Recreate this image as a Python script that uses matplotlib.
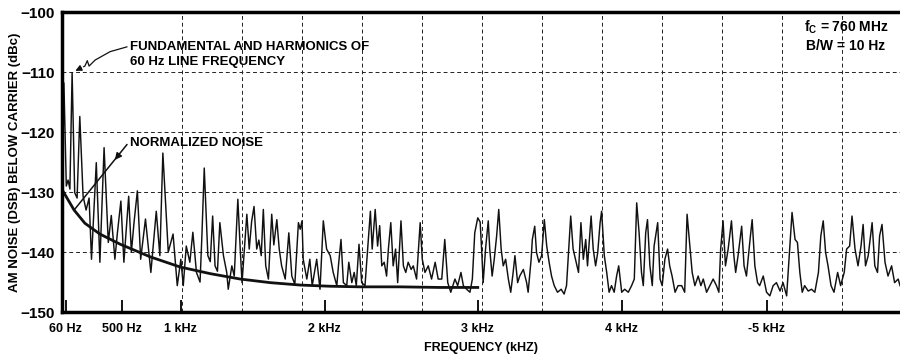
import matplotlib
matplotlib.use("Agg")
import matplotlib.pyplot as plt
from matplotlib.ticker import MultipleLocator

plt.rcParams['font.family'] = ['Liberation Sans', 'DejaVu Sans']

# x positions are in chart grid divisions (0 = left frame, one division per dashed line)
trace_div = [
    0.00, 0.01, 0.03, 0.07, 0.10, 0.13, 0.167, 0.21, 0.25, 0.295, 0.35, 0.40, 0.45, 0.49,
    0.57, 0.63, 0.70, 0.77, 0.82, 0.88, 0.92, 0.98, 1.03, 1.11, 1.155, 1.20, 1.255, 1.31,
    1.39, 1.48, 1.57, 1.63, 1.68, 1.77, 1.85, 1.92, 1.98, 2.02, 2.07, 2.13, 2.18, 2.24,
    2.30, 2.33, 2.37, 2.43, 2.47, 2.51, 2.55, 2.59, 2.63, 2.69, 2.745, 2.77, 2.83, 2.87,
    2.93, 2.97, 3.00, 3.08, 3.12, 3.16, 3.20, 3.245, 3.28, 3.32, 3.355, 3.395, 3.44, 3.495,
    3.53, 3.58, 3.62, 3.66, 3.72, 3.78, 3.83, 3.88, 3.94, 3.97, 4.00, 4.02, 4.08, 4.13,
    4.17, 4.245, 4.30, 4.355, 4.41, 4.47, 4.52, 4.58, 4.61, 4.65, 4.69, 4.745, 4.78, 4.83,
    4.87, 4.905, 4.95, 4.995, 5.05, 5.105, 5.14, 5.17, 5.22, 5.26, 5.295, 5.33, 5.37, 5.41,
    5.44, 5.48, 5.52, 5.56, 5.595, 5.65, 5.69, 5.73, 5.77, 5.82, 5.855, 5.91, 5.97, 6.005,
    6.05, 6.105, 6.16, 6.22, 6.27, 6.33, 6.38, 6.43, 6.48, 6.55, 6.595, 6.65, 6.69, 6.745,
    6.80, 6.84, 6.88, 6.93, 6.97, 7.00, 7.02, 7.06, 7.105, 7.13, 7.17, 7.205, 7.245, 7.28,
    7.32, 7.355, 7.395, 7.44, 7.48, 7.52, 7.55, 7.595, 7.63, 7.69, 7.745, 7.77, 7.82, 7.84,
    7.88, 7.91, 7.95, 7.995, 8.04, 8.08, 8.12, 8.16, 8.205, 8.26, 8.32, 8.37, 8.41, 8.45,
    8.48, 8.52, 8.56, 8.61, 8.65, 8.69, 8.73, 8.76, 8.82, 8.855, 8.895, 8.93, 8.97, 8.995,
    9.04, 9.08, 9.12, 9.16, 9.205, 9.245, 9.28, 9.33, 9.38, 9.44, 9.495, 9.54, 9.58, 9.62,
    9.66, 9.69, 9.73, 9.76, 9.80, 9.84, 9.87, 9.93, 9.97, 10.005, 10.05, 10.095, 10.13, 10.17,
    10.22, 10.27, 10.33, 10.38, 10.42, 10.47, 10.505, 10.55, 10.605, 10.65, 10.69, 10.745, 10.80, 10.855,
    10.91, 10.95, 10.98, 11.02, 11.06, 11.105, 11.16, 11.20, 11.23, 11.27, 11.33, 11.37, 11.41, 11.47,
    11.505, 11.55, 11.595, 11.63, 11.69, 11.745, 11.80, 11.855, 11.91, 11.97, 12.02, 12.08, 12.13, 12.17,
    12.22, 12.26, 12.30, 12.34, 12.38, 12.44, 12.495, 12.55, 12.61, 12.65, 12.69, 12.73, 12.77, 12.82,
    12.87, 12.93, 12.98, 13.04, 13.08, 13.13, 13.17, 13.22, 13.27, 13.32, 13.355, 13.395, 13.44, 13.505,
    13.55, 13.595, 13.63, 13.67, 13.72, 13.77, 13.83, 13.88, 13.94, 13.97,
]
trace_db = [
    -129.6, -126.5, -111.8, -129.0, -128.0, -129.5, -110.1, -130.1, -131.0, -117.4, -130.7, -133.0, -131.0, -141.2,
    -125.1, -141.7, -122.6, -138.4, -133.9, -141.2, -137.0, -131.5, -141.7, -130.7, -140.0, -135.0, -129.8, -141.2,
    -134.5, -143.4, -133.2, -140.6, -123.5, -140.0, -137.0, -145.6, -141.2, -145.6, -139.0, -141.7, -136.7, -143.4,
    -145.0, -137.5, -126.0, -140.6, -141.6, -134.0, -142.3, -143.2, -135.1, -140.6, -143.4, -146.2, -142.3, -144.0,
    -131.2, -139.5, -145.1, -133.7, -139.5, -134.9, -132.4, -139.5, -138.0, -140.6, -132.9, -142.3, -144.5, -133.7,
    -138.8, -134.6, -139.5, -142.3, -144.5, -136.8, -144.0, -145.4, -135.1, -136.2, -134.8, -141.2, -144.5, -141.2,
    -145.6, -141.2, -146.2, -134.8, -139.5, -140.6, -143.4, -145.6, -142.0, -137.9, -145.1, -145.6, -141.7, -145.1,
    -143.4, -145.6, -138.7, -145.1, -145.6, -137.9, -133.2, -139.5, -132.9, -139.0, -135.6, -142.3, -141.7, -144.0,
    -139.5, -135.1, -142.3, -139.5, -145.1, -134.8, -142.3, -143.4, -141.7, -142.9, -142.3, -144.5, -135.1, -141.2,
    -143.4, -142.3, -144.5, -141.7, -144.5, -144.5, -137.9, -145.1, -146.7, -144.5, -145.6, -143.4, -145.6, -146.2,
    -146.7, -144.5, -136.8, -134.3, -135.0, -140.6, -145.1, -139.5, -134.8, -139.5, -144.0, -141.2, -137.3, -132.9,
    -139.5, -142.3, -141.2, -144.5, -146.7, -143.4, -140.6, -145.1, -144.0, -142.9, -145.1, -146.7, -141.2, -137.9,
    -135.7, -140.1, -141.7, -140.6, -134.6, -139.0, -141.7, -144.0, -145.6, -146.7, -146.2, -147.0, -145.6, -139.0,
    -134.0, -139.5, -141.2, -143.4, -135.1, -141.2, -137.9, -142.3, -134.0, -139.5, -142.3, -140.1, -135.1, -133.2,
    -140.6, -143.4, -146.7, -145.6, -146.7, -144.0, -142.3, -146.7, -146.2, -146.7, -145.6, -144.5, -131.8, -136.8,
    -143.4, -145.6, -136.8, -134.6, -142.3, -145.6, -139.0, -135.1, -144.5, -145.6, -141.2, -139.5, -142.3, -144.0,
    -146.7, -145.6, -145.6, -146.7, -133.7, -139.5, -143.4, -145.6, -144.0, -145.6, -144.5, -146.7, -145.6, -144.5,
    -145.6, -146.7, -139.5, -134.8, -142.3, -139.5, -134.8, -140.6, -143.4, -140.6, -135.7, -142.3, -144.0, -137.9,
    -134.6, -142.3, -145.1, -145.6, -144.0, -146.7, -147.3, -145.6, -145.1, -146.5, -145.1, -147.3, -139.5, -133.4,
    -137.9, -138.4, -143.4, -146.7, -145.6, -146.5, -146.2, -146.7, -143.4, -137.3, -134.8, -140.1, -142.3, -145.6,
    -146.7, -143.4, -145.6, -143.4, -139.5, -139.0, -134.0, -139.5, -142.3, -139.0, -135.4, -142.3, -140.6, -135.1,
    -142.3, -143.4, -137.3, -135.4, -141.7, -144.0, -142.3, -145.1, -144.5, -145.6,
]

# normalized noise floor
curve_div = [0.0, 0.2, 0.38, 0.63, 0.97, 1.47, 1.97, 2.47, 2.97, 3.47, 3.97, 4.47, 4.97, 5.63, 6.3, 6.93]
curve_db = [-129.6, -133.0, -135.2, -137.0, -138.7, -140.8, -142.5, -143.6, -144.5, -145.1, -145.5,
            -145.7, -145.8, -145.8, -145.9, -145.9]

tick_div = [0.06, 1.0, 1.98, 4.38, 6.93, 9.33, 11.75]
tick_labels = ['60 Hz', '500 Hz', '1 kHz', '2 kHz', '3 kHz', '4 kHz', '-5 kHz']
y_ticks = [-100, -110, -120, -130, -140, -150]

fig = plt.figure(figsize=(9, 3.55), dpi=100)
ax = fig.add_axes([0.069, 0.121, 0.931, 0.845])

ax.plot(trace_div, trace_db, color='#111111', lw=1.05)
ax.plot(curve_div, curve_db, color='#111111', lw=2.0)

ax.set_xlim(0, 13.97)
ax.set_ylim(-150, -100)
ax.set_yticks(y_ticks)
ax.set_xticks(tick_div)
ax.set_xticklabels(tick_labels)
ax.xaxis.set_minor_locator(MultipleLocator(1))
ax.grid(True, which='minor', axis='x', color='#222222', ls=(0, (4, 3)), lw=0.7)
ax.grid(True, which='major', axis='y', color='#222222', ls=(0, (4, 3)), lw=0.7)
ax.tick_params(axis='x', which='major', direction='in', length=9, width=1.3, pad=8,
               labelsize=9)
ax.tick_params(axis='x', which='minor', length=0)
ax.tick_params(axis='y', length=0, pad=5, labelsize=11)
for lab in ax.get_xticklabels() + ax.get_yticklabels():
    lab.set_fontweight('bold')

for side in ['left', 'top', 'bottom']:
    ax.spines[side].set_linewidth(2.5)
ax.spines['right'].set_visible(False)

ax.set_ylabel('AM NOISE (DSB) BELOW CARRIER (dBc)', fontsize=9.5, fontweight='bold')
ax.yaxis.set_label_coords(-0.049, 0.5)
ax.set_xlabel('FREQUENCY (kHZ)', fontsize=9, fontweight='bold', labelpad=5)

# annotations
ax.text(1.13, -107.1, 'FUNDAMENTAL AND HARMONICS OF\n60 Hz LINE FREQUENCY', fontsize=9.5,
        fontweight='bold', va='center', ha='left', linespacing=1.3)
ax.plot([1.08, 0.8, 0.55, 0.45, 0.42, 0.38, 0.36], [-105.8, -106.6, -108.0, -109.0, -108.1, -109.0, -109.1],
        color='#111111', lw=0.9)
ax.annotate('', xy=(0.18, -110.0), xytext=(0.36, -109.1),
            arrowprops=dict(arrowstyle='-|>', color='#111111', lw=0.9, mutation_scale=9))

ax.text(1.13, -121.8, 'NORMALIZED NOISE', fontsize=9.5, fontweight='bold', va='center', ha='left')
ax.plot([1.08, 0.2], [-122.1, -133.0], color='#111111', lw=1.1)
ax.annotate('', xy=(0.85, -125.0), xytext=(0.97, -123.5),
            arrowprops=dict(arrowstyle='-|>', color='#111111', lw=1.0, mutation_scale=10))

ax.text(13.07, -104.0, 'f$_\\mathregular{C}$ = 760 MHz\nB/W = 10 Hz', fontsize=10, fontweight='bold',
        va='center', ha='center', multialignment='center', linespacing=1.3)

fig.savefig('out.png', dpi=100)
